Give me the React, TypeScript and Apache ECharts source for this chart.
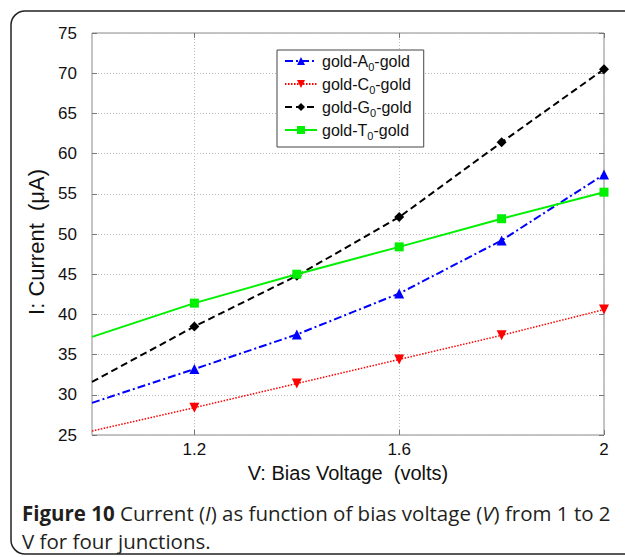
import React, { useEffect, useRef } from "react";
import * as echarts from "echarts";

const voltages = [1.0, 1.2, 1.4, 1.6, 1.8, 2.0];
const goldA = [29.0, 33.2, 37.5, 42.6, 49.2, 57.4];
const goldC = [25.5, 28.4, 31.4, 34.4, 37.4, 40.6];
const goldG = [31.6, 38.5, 44.8, 52.1, 61.4, 70.5];
const goldT = [37.2, 41.4, 45.0, 48.4, 51.9, 55.2];
const seriesNames = ["gold-A0-gold", "gold-C0-gold", "gold-G0-gold", "gold-T0-gold"];
const legendLabels = ["gold-A{s|0}-gold", "gold-C{s|0}-gold", "gold-G{s|0}-gold", "gold-T{s|0}-gold"];
const xTicks = [1.2, 1.6, 2];

const FONT = "'Liberation Sans', Arial, sans-serif";
const CAP = "'Open Sans', sans-serif";

function mk(vals: number[]) {
  return vals.map((v, i) => (i === 0 ? { value: [voltages[i], v], symbol: "none" } : { value: [voltages[i], v] }));
}

export default function App() {
  const ref = useRef<HTMLDivElement>(null);
  useEffect(() => {
    const chart = echarts.init(ref.current!, null, { renderer: "svg" });
    const tick = { show: true, inside: true, length: 5, lineStyle: { color: "#777" } };
    chart.setOption({
      animation: false,
      backgroundColor: "#fff",
      grid: { left: 92, top: 33, width: 512, height: 402, show: true, borderColor: "#8a8a8a", borderWidth: 1, containLabel: false },
      xAxis: [
        {
          type: "value", min: 1, max: 2,
          axisLine: { show: false },
          axisTick: { ...tick, customValues: xTicks },
          axisLabel: { customValues: xTicks, color: "#111", fontSize: 17, fontFamily: FONT, margin: 6, formatter: (v: number) => String(+v.toFixed(1)) },
          splitLine: { show: true, lineStyle: { color: "#bbb", type: [1, 2], width: 1 } },
          name: "V: Bias Voltage\u00a0\u00a0(volts)", nameLocation: "middle", nameGap: 25,
          nameTextStyle: { fontSize: 20, fontFamily: FONT, color: "#111" },
        },
        {
          type: "value", min: 1, max: 2, position: "top",
          axisLine: { show: false },
          axisTick: { ...tick, customValues: xTicks },
          axisLabel: { show: false, customValues: xTicks },
          splitLine: { show: false },
        },
      ],
      yAxis: [
        {
          type: "value", min: 25, max: 75, interval: 5,
          axisLine: { show: false },
          axisTick: tick,
          axisLabel: { color: "#111", fontSize: 17, fontFamily: FONT, margin: 15 },
          splitLine: { show: true, lineStyle: { color: "#bbb", type: [1, 2], width: 1 } },
          name: "I: Current\u00a0\u00a0(\u03bcA)", nameLocation: "middle", nameGap: 36, nameRotate: 90,
          nameTextStyle: { fontSize: 22, fontFamily: FONT, color: "#111", padding: [0, 16, 0, 0] },
        },
        {
          type: "value", min: 25, max: 75, interval: 5, position: "right",
          axisLine: { show: false },
          axisTick: tick,
          axisLabel: { show: false },
          splitLine: { show: false },
        },
      ],
      legend: {
        orient: "vertical", left: 277, top: 50,
        backgroundColor: "#fff", borderColor: "#444", borderWidth: 1, borderRadius: 0,
        padding: [3, 12, 6, 7], itemGap: 4, itemWidth: 32, itemHeight: 10,
        data: seriesNames,
        formatter: (name: string) => legendLabels[seriesNames.indexOf(name)],
        textStyle: {
          fontSize: 16, fontFamily: FONT, color: "#111",
          rich: { s: { fontSize: 11, fontFamily: FONT, color: "#111", padding: [11, 0, 0, 0] } },
        },
      },
      graphic: [
        {
          type: "rect", shape: { x: 11, y: 11, width: 700, height: 543, r: 14 },
          style: { fill: "none", stroke: "#222", lineWidth: 1.5 }, silent: true, z: -1,
        },
        {
          type: "text", left: 22, top: 499,
          style: {
            text: "{b|Figure 10} Current ({i|I}) as function of bias voltage ({i|V}) from 1 to 2\nV for four junctions.",
            fontFamily: CAP, fontSize: 20.5, fill: "#231f20", lineHeight: 28,
            rich: {
              b: { fontFamily: CAP, fontSize: 20.5, fontWeight: "bold", fill: "#231f20", lineHeight: 28 },
              i: { fontFamily: CAP, fontSize: 20.5, fontStyle: "italic", fill: "#231f20", lineHeight: 28 },
            },
          },
        },
      ],
      series: [
        {
          name: seriesNames[0], type: "line", data: mk(goldA), symbol: "triangle", symbolSize: 10,
          itemStyle: { color: "#0000ff" }, lineStyle: { color: "#0000ff", width: 2, type: [8, 3, 2, 3] },
        },
        {
          name: seriesNames[1], type: "line", data: mk(goldC), symbol: "triangle", symbolRotate: 180, symbolSize: 10,
          itemStyle: { color: "#ff0000" }, lineStyle: { color: "#ff0000", width: 1.5, type: [1.5, 1.5] },
        },
        {
          name: seriesNames[2], type: "line", data: mk(goldG), symbol: "diamond", symbolSize: 10,
          itemStyle: { color: "#000" }, lineStyle: { color: "#000", width: 2, type: [7, 4] },
        },
        {
          name: seriesNames[3], type: "line", data: mk(goldT), symbol: "rect", symbolSize: 9,
          itemStyle: { color: "#00f000" }, lineStyle: { color: "#00f000", width: 2, type: "solid" },
        },
      ],
    });
    return () => chart.dispose();
  }, []);
  return <div ref={ref} style={{ position: "absolute", left: 0, top: 0, width: 625, height: 557 }} />;
}
